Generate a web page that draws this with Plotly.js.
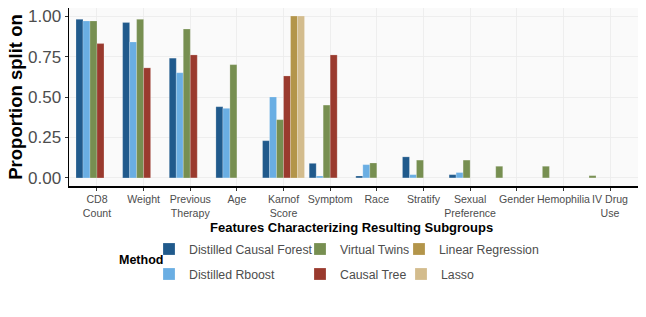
<!DOCTYPE html>
<html>
<head>
<meta charset="utf-8">
<script src="https://cdn.plot.ly/plotly-3.0.1.min.js"></script>
<style>html,body{margin:0;padding:0;background:#fff;}#chart{width:646px;height:317px;}</style>
</head>
<body>
<div id="chart"></div>
<script>
const categories = ["CD8<br>Count", "Weight", "Previous<br>Therapy", "Age", "Karnof<br>Score", "Symptom", "Race", "Stratify", "Sexual<br>Preference", "Gender", "Hemophilia", "IV Drug<br>Use"];
const methods = ["Distilled Causal Forest", "Distilled Rboost", "Virtual Twins", "Causal Tree", "Linear Regression", "Lasso"];
const distilledCausalForest = [0.98, 0.96, 0.74, 0.44, 0.23, 0.09, 0.012, 0.13, 0.02, null, null, null];
const distilledRboost       = [0.97, 0.84, 0.65, 0.43, 0.50, 0.012, 0.082, 0.02, 0.033, null, null, null];
const virtualTwins          = [0.97, 0.98, 0.92, 0.70, 0.36, 0.45, 0.092, 0.11, 0.11, 0.072, 0.072, 0.014];
const causalTree            = [0.83, 0.68, 0.76, null, 0.63, 0.76, null, null, null, null, null, null];
const linearRegression      = [null, null, null, null, 1.00, null, null, null, null, null, null, null];
const lasso                 = [null, null, null, null, 1.00, null, null, null, null, null, null, null];
const yTicks = [0, 0.25, 0.5, 0.75, 1.0];
const yTickLabels = ["0.00", "0.25", "0.50", "0.75", "1.00"];

const series = [distilledCausalForest, distilledRboost, virtualTwins, causalTree, linearRegression, lasso];
const colors = ["#205A8C", "#6AAEE3", "#778F51", "#9A3A2E", "#B3954A", "#D3BC8D"];
const FONT = "Liberation Sans, Arial, sans-serif";
const barW = 0.9 / methods.length;

// left-aligned dodge (ggplot preserve="single"): slot = rank among present methods
const offsets = series.map(() => categories.map(() => 0));
categories.forEach((c, i) => {
  let k = 0;
  series.forEach((s, m) => {
    if (s[i] !== null && s[i] !== undefined) { offsets[m][i] = -0.45 + barW * k; k++; }
  });
});

// legend positions (px) for the 2x3 grid, column-major
const legPos = [[149, 249], [149, 274], [300, 249], [300, 274], [399, 249], [401, 274]];
const PL = 69, PR = 638, PT = 8, PB = 186;
const px2x = p => (p - PL) / (PR - PL);
const py2y = p => (PB - p) / (PB - PT);

const traces = series.map((s, m) => ({
  type: "bar",
  name: methods[m],
  x: categories,
  y: s,
  width: barW,
  offset: offsets[m],
  marker: {color: colors[m], line: {color: "rgba(255,255,255,0.35)", width: 0.6}},
  legend: m === 0 ? "legend" : "legend" + (m + 1),
  showlegend: true
}));

const layout = {
  width: 646, height: 317,
  margin: {l: PL, r: 646 - PR, t: PT, b: 317 - PB, autoexpand: false},
  paper_bgcolor: "#ffffff",
  plot_bgcolor: "#FAFAFA",
  barmode: "overlay",
  font: {family: FONT, color: "#4D4D4D"},
  xaxis: {
    type: "category",
    categoryarray: categories,
    range: [-0.6, categories.length - 0.4],
    showgrid: true, gridcolor: "#EBEBEB", gridwidth: 0.8,
    showline: true, linecolor: "#000", linewidth: 1.5,
    ticks: "outside", ticklen: 3, tickcolor: "#333", tickwidth: 1,
    tickangle: 0,
    tickfont: {size: 10.6, color: "#4D4D4D", family: FONT},
    zeroline: false
  },
  yaxis: {
    range: [-0.05, 1.05],
    tickvals: yTicks, ticktext: yTickLabels,
    showgrid: true, gridcolor: "#EBEBEB", gridwidth: 0.8,
    showline: true, linecolor: "#000", linewidth: 1.5,
    ticks: "outside", ticklen: 3, tickcolor: "#333", tickwidth: 1,
    tickfont: {size: 17, color: "#4D4D4D", family: FONT},
    zeroline: false,
    title: {text: "<b>Proportion split on</b>", font: {size: 18.5, color: "#000", family: FONT}}
  },
  annotations: [
    {text: "<b>Features Characterizing Resulting Subgroups</b>", xref: "paper", yref: "paper",
     x: px2x(351.5), y: py2y(227.5), xanchor: "center", yanchor: "middle", showarrow: false,
     font: {size: 13, color: "#000", family: FONT}},
    {text: "<b>Method</b>", xref: "paper", yref: "paper",
     x: px2x(141), y: py2y(260), xanchor: "center", yanchor: "middle", showarrow: false,
     font: {size: 12.5, color: "#000", family: FONT}}
  ]
};
legPos.forEach((p, m) => {
  const key = m === 0 ? "legend" : "legend" + (m + 1);
  layout[key] = {
    x: px2x(p[0]), y: py2y(p[1]), xanchor: "left", yanchor: "middle",
    bgcolor: "rgba(0,0,0,0)", borderwidth: 0,
    font: {size: 12.3, color: "#4D4D4D", family: FONT}
  };
});

Plotly.newPlot("chart", traces, layout, {staticPlot: true, displayModeBar: false});
</script>
</body>
</html>
